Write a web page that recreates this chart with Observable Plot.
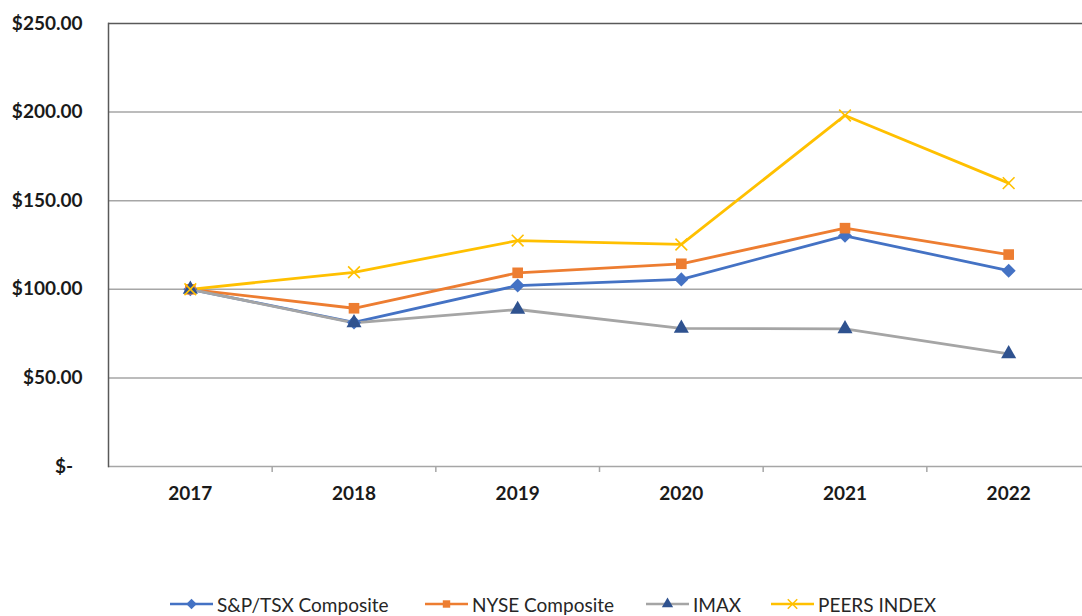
<!DOCTYPE html>
<html>
<head>
<meta charset="utf-8">
<script src="https://cdn.jsdelivr.net/npm/d3@7"></script>
<script src="https://cdn.jsdelivr.net/npm/@observablehq/plot@0.6"></script>
<style>
  html, body { margin: 0; padding: 0; background: #fff; }
  #wrap { width: 1082px; height: 616px; position: relative; overflow: hidden; font-family: Lato, "Open Sans", sans-serif; }
  #legend { position: absolute; left: 0; top: 592px; width: 1082px; height: 24px; }
  .item { position: absolute; top: 0; height: 24px; display: flex; align-items: center; font-size: 19px; color: #262626; white-space: nowrap; }
  .item svg { margin-right: 4px; }
</style>
</head>
<body>
<div id="wrap"><div id="chart"></div><div id="legend"></div></div>
<script>
const years = [2017, 2018, 2019, 2020, 2021, 2022];
const seriesNames = ["S&P/TSX Composite", "NYSE Composite", "IMAX", "PEERS INDEX"];
const spTsx = [100, 81.3, 102.1, 105.6, 130.2, 110.5];
const nyse  = [100, 89.3, 109.3, 114.4, 134.5, 119.6];
const imax  = [100, 81.1, 88.6, 78.0, 77.7, 63.6];
const peers = [100, 109.6, 127.5, 125.3, 198.1, 159.9];
const yTicks = [0, 50, 100, 150, 200, 250];
const yTickLabels = ["$-\u2002", "$50.00", "$100.00", "$150.00", "$200.00", "$250.00"];
const xBoundaries = [2017.5, 2018.5, 2019.5, 2020.5, 2021.5];

const lineColors = ["#4472C4", "#ED7D31", "#A5A5A5", "#FFC000"];
const markerColors = ["#4472C4", "#ED7D31", "#2F528F", "#FFC000"];
const legendLeft = [170, 425, 646, 771];

const seriesValues = [spTsx, nyse, imax, peers];
const rows = [];
seriesNames.forEach((name, i) => {
  years.forEach((yr, j) => rows.push({series: name, year: yr, value: seriesValues[i][j]}));
});
const bySeries = name => rows.filter(d => d.series === name);

const font = "Lato, 'Open Sans', sans-serif";

const marks = [
  Plot.ruleY([50, 100, 150, 200], {stroke: "#A6A6A6", strokeWidth: 1.5}),
  Plot.ruleY([250], {stroke: "#595959", strokeWidth: 1.5}),
  Plot.ruleY([0], {stroke: "#A6A6A6", strokeWidth: 1.5}),
  Plot.frame({anchor: "left", stroke: "#595959", strokeWidth: 1.5}),
  Plot.axisY({ticks: yTicks, tickFormat: (d) => yTickLabels[yTicks.indexOf(d)], tickSize: 0, tickPadding: 26,
    fontSize: 19, fontWeight: "bold", fill: "#1a1a1a", label: null}),
  Plot.axisX({ticks: years, tickFormat: d => String(d), tickSize: 0, tickPadding: 20,
    fontSize: 19, fontWeight: "bold", fill: "#1a1a1a", label: null}),
  Plot.axisX({ticks: xBoundaries, tickFormat: () => "", tickSize: 6, stroke: "#A6A6A6", strokeWidth: 1.5, label: null}),
];
seriesNames.forEach((name, i) => {
  marks.push(Plot.line(bySeries(name), {x: "year", y: "value", stroke: lineColors[i], strokeWidth: 2.8}));
});
seriesNames.forEach((name, i) => {
  const data = bySeries(name);
  if (i === 0) marks.push(Plot.dot(data, {x: "year", y: "value", symbol: "square", r: 5.6, rotate: 45, fill: markerColors[i]}));
  if (i === 1) marks.push(Plot.dot(data, {x: "year", y: "value", symbol: "square", r: 6, fill: markerColors[i]}));
  if (i === 2) marks.push(Plot.dot(data, {x: "year", y: "value", symbol: "triangle", r: 5.6, fill: markerColors[i]}));
  if (i === 3) marks.push(Plot.dot(data, {x: "year", y: "value", symbol: "times", r: 5.4, stroke: markerColors[i], strokeWidth: 1.6}));
});

const chart = Plot.plot({
  width: 1082,
  height: 592,
  marginLeft: 108,
  marginRight: 0,
  marginTop: 23,
  marginBottom: 126,
  style: {fontFamily: font, background: "#fff", overflow: "visible"},
  x: {type: "linear", domain: [2016.5, 2022.5], range: [108, 1090], label: null},
  y: {domain: [0, 250], label: null},
  marks
});
document.getElementById("chart").appendChild(chart);

// legend
const legend = d3.select("#legend");
const symbolFor = [d3.symbolSquare, d3.symbolSquare, d3.symbolTriangle, d3.symbolTimes];
seriesNames.forEach((name, i) => {
  const item = legend.append("div").attr("class", "item").style("left", legendLeft[i] + "px");
  const svg = item.append("svg").attr("width", 43).attr("height", 16);
  svg.append("line").attr("x1", 0).attr("x2", 43).attr("y1", 8).attr("y2", 8)
    .attr("stroke", lineColors[i]).attr("stroke-width", 2.5);
  const sym = d3.symbol(symbolFor[i], i === 3 ? 60 : 55)();
  const p = svg.append("path").attr("d", sym)
    .attr("transform", "translate(21.5,8)" + (i === 0 ? " rotate(45)" : ""));
  if (i === 3) p.attr("fill", "none").attr("stroke", markerColors[i]).attr("stroke-width", 1.5);
  else p.attr("fill", markerColors[i]);
  item.append("span").text(name);
});
</script>
</body>
</html>
